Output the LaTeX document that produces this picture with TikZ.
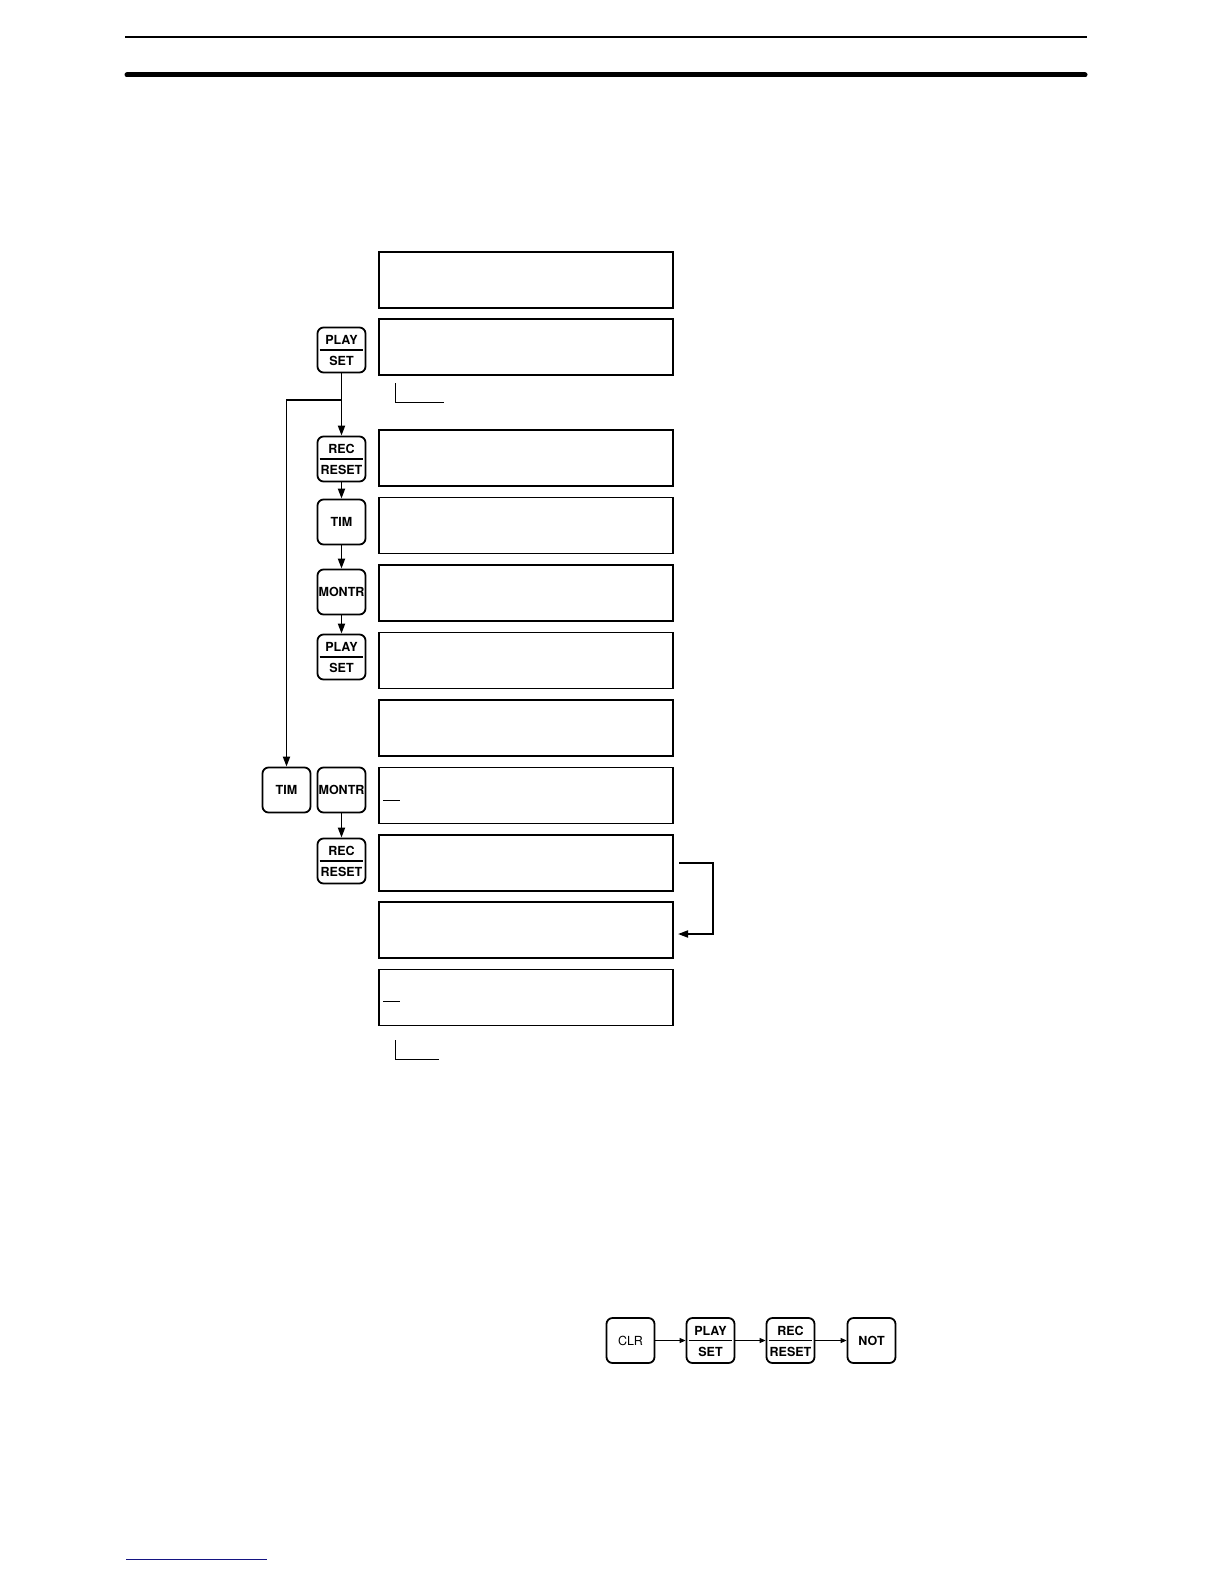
\documentclass[tikz,border=0pt]{standalone}
\usepackage{fontspec}
\setmainfont{TeX Gyre Heros}
\usetikzlibrary{arrows.meta}
\begin{document}
\begin{tikzpicture}[x=1pt,y=-1pt,
  disp/.style={draw,line width=1.3pt,minimum width=294pt,minimum height=56pt,inner sep=0pt},
  keybox/.style={draw,line width=1.8pt,rounded corners=6pt,minimum width=48pt,minimum height=45pt,inner sep=0pt,font=\bfseries\fontsize{12.5}{14}\selectfont},
  keytxt/.style={inner sep=0pt,font=\bfseries\fontsize{12.5}{14}\selectfont},
  arr/.style={line width=1.8pt,-{Triangle[length=10pt,width=7pt]}},
  thinarr/.style={line width=1pt,-{Triangle[length=6pt,width=5pt]}},
  lbl/.style={line width=1pt}]
% header rules
\draw[line width=2pt] (125,37) -- (1087,37);
\draw[line width=5pt,line cap=round] (127,75) -- (1085,75);
\draw[line width=1pt,color={rgb,255:red,20;green,20;blue,130}] (126,1559) -- (267,1559);
% display boxes
\node[disp] (d1) at (526,280) {};
\node[disp] (d2) at (526,347) {};
\node[disp] (d3) at (526,458) {};
\node[disp] (d4) at (526,525.5) {};
\node[disp] (d5) at (526,593) {};
\node[disp] (d6) at (526,660.5) {};
\node[disp] (d7) at (526,728) {};
\node[disp] (d8) at (526,795.5) {};
\node[disp] (d9) at (526,863) {};
\node[disp] (d10) at (526,930) {};
\node[disp] (d11) at (526,997.5) {};
% small marks
\draw[lbl] (395,383) -- (395,402) -- (444,402);
\draw[lbl] (395,1040) -- (395,1059) -- (439,1059);
\draw[lbl] (383,800) -- (400,800);
\draw[lbl] (383,1001) -- (400,1001);
% keys
\newcommand{\dkey}[5]{%
  \node[keybox] (#1) at (#2,#3) {};%
  \draw[line width=1.6pt] ([xshift=3pt]#1.west) -- ([xshift=-3pt]#1.east);%
  \node[keytxt] (#1u) at ([yshift=10pt]#1.center) {#4};%
  \node[keytxt] (#1l) at ([yshift=-11pt]#1.center) {#5};}
\dkey{p1}{341.5}{350}{PLAY}{SET}
\dkey{r1}{341.5}{459}{REC}{RESET}
\node[keybox] (t1) at (341.5,522) {TIM};
\node[keybox] (m1) at (341.5,592) {MONTR};
\dkey{p2}{341.5}{657}{PLAY}{SET}
\node[keybox] (t2) at (286.5,790) {TIM};
\node[keybox] (m2) at (341.5,790) {MONTR};
\dkey{r2}{341.5}{861}{REC}{RESET}
% arrows
\draw[arr] (p1.south) -- (r1.north);
\coordinate (br) at (341.5,400);
\draw[arr] (br) -| (t2.north);
\draw[arr] (r1.south) -- (t1.north);
\draw[arr] (t1.south) -- (m1.north);
\draw[arr] (m1.south) -- (p2.north);
\draw[arr] (m2.south) -- (r2.north);
\coordinate (c1) at (679,863);
\coordinate (c2) at (678,934);
\draw[arr] (c1) -- (713,863) |- (c2);
% bottom row
\node[keybox,font=\fontsize{12.5}{14}\selectfont] (clr) at (630.5,1340.5) {CLR};
\dkey{p3}{710.5}{1340.5}{PLAY}{SET}
\dkey{r3}{790.5}{1340.5}{REC}{RESET}
\node[keybox] (not) at (871.5,1340.5) {NOT};
\draw[thinarr] (clr.east) -- (p3.west);
\draw[thinarr] (p3.east) -- (r3.west);
\draw[thinarr] (r3.east) -- (not.west);
\pgfresetboundingbox
\useasboundingbox (0,0) rectangle (1224,1584);
\end{tikzpicture}
\end{document}
